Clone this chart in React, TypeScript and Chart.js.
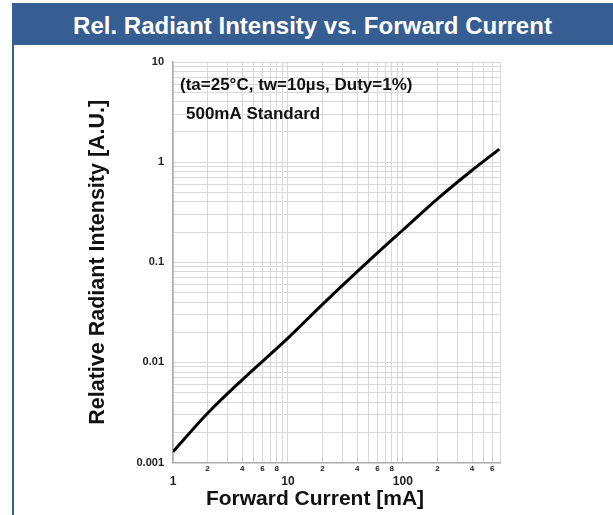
import React, { useEffect, useRef } from "react";
import { Chart, registerables } from "chart.js";

Chart.register(...registerables);

const chartTitle = "Rel. Radiant Intensity vs. Forward Current";
const xAxisTitle = "Forward Current [mA]";
const yAxisTitle = "Relative Radiant Intensity [A.U.]";
const noteLines = ["(ta=25°C, tw=10µs, Duty=1%)", "500mA Standard"];

const forwardCurrent = [1, 2, 4, 10, 20, 50, 100, 200, 400, 690];
const relIntensity = [0.00128, 0.0031, 0.0067, 0.0175, 0.038, 0.102, 0.21, 0.43, 0.83, 1.35];

const xTickValues = [1, 2, 3, 4, 5, 6, 7, 8, 9, 10, 20, 30, 40, 50, 60, 70, 80, 90, 100, 200, 300, 400, 500, 600, 700];
const xMinorLabels = [2, 4, 6, 8, 20, 40, 60, 80, 200, 400, 600];
const xMajorLabels = [1, 10, 100];
const yTickValues = [
  0.001, 0.002, 0.003, 0.004, 0.005, 0.006, 0.007, 0.008, 0.009,
  0.01, 0.02, 0.03, 0.04, 0.05, 0.06, 0.07, 0.08, 0.09,
  0.1, 0.2, 0.3, 0.4, 0.5, 0.6, 0.7, 0.8, 0.9,
  1, 2, 3, 4, 5, 6, 7, 8, 9, 10,
];
const yMajorValues = [0.001, 0.01, 0.1, 1, 10];
const yMajorLabels = ["0.001", "0.01", "0.1", "1", "10"];

const FONT = "'Liberation Sans', Arial, sans-serif";

function near(a: number, b: number) {
  return Math.abs(a - b) / b < 1e-6;
}

const textPlugin = {
  id: "overlayText",
  afterDraw(chart: any) {
    const { ctx, chartArea } = chart;
    ctx.save();
    ctx.fillStyle = "#111";
    ctx.textBaseline = "middle";
    ctx.textAlign = "left";
    ctx.font = `bold 17px ${FONT}`;
    ctx.fillText(noteLines[0], chartArea.left + 7, 85);
    ctx.fillText(noteLines[1], chartArea.left + 13, 114);
    ctx.textAlign = "center";
    ctx.font = `bold 21px ${FONT}`;
    ctx.fillText(xAxisTitle, 315, 499);
    ctx.restore();
  },
};

export default function App() {
  const ref = useRef<HTMLCanvasElement | null>(null);

  useEffect(() => {
    if (!ref.current) return;
    const chart = new Chart(ref.current, {
      type: "line",
      data: {
        datasets: [
          {
            data: forwardCurrent.map((x, i) => ({ x, y: relIntensity[i] })),
            borderColor: "#000",
            borderWidth: 3,
            pointRadius: 0,
            tension: 0.3,
            cubicInterpolationMode: "monotone",
            fill: false,
          },
        ],
      },
      options: {
        animation: false,
        responsive: false,
        maintainAspectRatio: false,
        layout: { padding: { left: 0, top: 62, right: 113, bottom: 0 } },
        plugins: {
          legend: { display: false },
          tooltip: { enabled: false },
          title: { display: false },
        },
        scales: {
          x: {
            type: "logarithmic",
            min: 1,
            max: 700,
            afterBuildTicks: (s: any) => {
              s.ticks = xTickValues.map((v) => ({ value: v }));
            },
            afterFit: (s: any) => {
              s.height = 52.5;
            },
            grid: { color: "#d9d9d9", lineWidth: 1, drawTicks: false },
            border: { color: "#aaaaaa", width: 1.5 },
            ticks: {
              autoSkip: false,
              maxRotation: 0,
              padding: 1,
              color: "#222",
              font: (c: any) => {
                const v = c.tick ? c.tick.value : 0;
                const major = xMajorLabels.some((m) => near(v, m));
                return major
                  ? { family: FONT, size: 12, weight: "bold", lineHeight: 1.0 }
                  : { family: FONT, size: 8, weight: "bold", lineHeight: 1.2 };
              },
              callback: (value: any) => {
                const v = Number(value);
                if (xMajorLabels.some((m) => near(v, m))) return ["", String(v)];
                if (xMinorLabels.some((m) => near(v, m))) return String(v).charAt(0);
                return "";
              },
            },
            title: { display: false },
          },
          y: {
            type: "logarithmic",
            min: 0.001,
            max: 10,
            afterBuildTicks: (s: any) => {
              s.ticks = yTickValues.map((v) => ({ value: v }));
            },
            afterFit: (s: any) => {
              s.width = 173;
            },
            grid: { color: "#d9d9d9", lineWidth: 1, drawTicks: false },
            border: { color: "#aaaaaa", width: 1.5 },
            ticks: {
              autoSkip: false,
              padding: 9,
              color: "#222",
              font: { family: FONT, size: 11, weight: "bold" },
              callback: (value: any) => {
                const v = Number(value);
                const idx = yMajorValues.findIndex((m) => near(v, m));
                return idx >= 0 ? yMajorLabels[idx] : "";
              },
            },
            title: {
              display: true,
              text: yAxisTitle,
              color: "#111",
              font: { family: FONT, size: 21.5, weight: "bold" },
              padding: { top: 85, bottom: 0 },
            },
          },
        },
      },
      plugins: [textPlugin],
    } as any);
    return () => chart.destroy();
  }, []);

  return (
    <div style={{ position: "absolute", left: 0, top: 0, width: 613, height: 515, overflow: "hidden", background: "#fff" }}>
      <div
        style={{
          position: "absolute",
          left: 12,
          top: 3,
          width: 601,
          height: 42,
          boxSizing: "border-box",
          paddingTop: 3,
          background: "#365e92",
          color: "#fff",
          fontFamily: FONT,
          fontWeight: "bold",
          fontSize: 24,
          display: "flex",
          alignItems: "center",
          justifyContent: "center",
          whiteSpace: "nowrap",
        }}
      >
        {chartTitle}
      </div>
      <div style={{ position: "absolute", left: 12, top: 45, width: 2, height: 470, background: "#365e92" }} />
      <canvas ref={ref} width={613} height={515} style={{ position: "absolute", left: 0, top: 0, width: 613, height: 515 }} />
    </div>
  );
}
